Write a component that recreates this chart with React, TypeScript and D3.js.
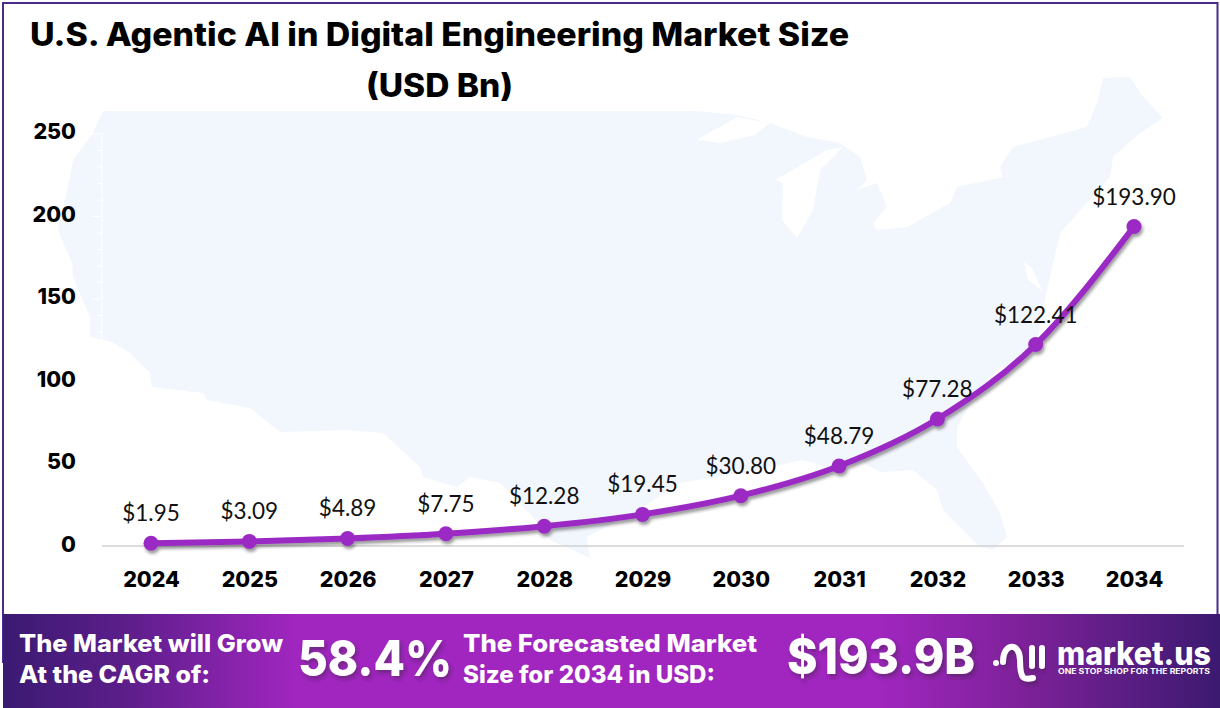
import React, { useEffect, useRef } from 'react';
import * as d3 from 'd3';

const years = ['2024', '2025', '2026', '2027', '2028', '2029', '2030', '2031', '2032', '2033', '2034'];
const marketSize = [1.95, 3.09, 4.89, 7.75, 12.28, 19.45, 30.8, 48.79, 77.28, 122.41, 193.9];
const yTicks = [0, 50, 100, 150, 200, 250];
const minorTicks = d3.range(0, 251, 10);

// background silhouette, traced in page pixels
const mapOutline: [number, number][] = [
  [103, 111], [697, 111], [737, 115], [770, 123], [807, 137], [840, 143], [860, 157], [867, 180], [857, 190],
  [877, 183], [887, 207], [873, 223], [877, 230], [907, 227], [950, 203], [957, 187], [1003, 177], [1000, 167],
  [1013, 147], [1087, 127], [1097, 103], [1103, 78], [1130, 77], [1140, 93], [1163, 118], [1140, 133], [1113, 157],
  [1110, 177], [1085, 205], [1060, 233], [1047, 290], [1037, 343], [1013, 360], [997, 370], [975, 395], [957, 427],
  [957, 447], [983, 483], [1000, 513], [1007, 537], [993, 550], [980, 547], [943, 510], [937, 490], [913, 470],
  [880, 472], [863, 463], [827, 467], [803, 460], [747, 472], [680, 483], [643, 507], [620, 520], [587, 537],
  [590, 558], [550, 540], [533, 517], [500, 483], [470, 477], [457, 487], [423, 477], [420, 467], [383, 433],
  [347, 430], [280, 432], [250, 408], [207, 400], [203, 393], [152, 387], [150, 373], [130, 353], [112, 342],
  [90, 337], [90, 317], [73, 277], [72, 263], [58, 230], [70, 177], [73, 160], [93, 133],
];
const lakes: [number, number][][] = [
  [[697, 140], [737, 117], [770, 123], [755, 135], [720, 143]],
  [[775, 180], [827, 150], [843, 147], [820, 170], [813, 210], [797, 238], [782, 220], [783, 183]],
  [[1067, 224], [1093, 210], [1080, 222]],
  [[1024, 262], [1032, 268], [1043, 292], [1035, 285], [1028, 280]],
];

const TITLE_FONT = 'Inter, "Noto Sans", sans-serif';
const LABEL_FONT = 'Lato, "Noto Sans", sans-serif';
const PURPLE = '#9b2bc4';

const App: React.FC = () => {
  const svgRef = useRef<SVGSVGElement>(null);

  useEffect(() => {
    document.body.style.margin = '0';
    if (!svgRef.current) return;

    const svg = d3.select(svgRef.current);
    svg.selectAll('*').remove();

    const x = d3.scalePoint<string>().domain(years).range([151, 1134]);
    const y = d3.scaleLinear().domain([0, 250]).range([546.5, 134]);

    const defs = svg.append('defs');
    const grad = defs.append('linearGradient').attr('id', 'band');
    [
      [0, '#3a1a72'], [0.1, '#5c1e8a'], [0.24, '#a026bf'], [0.72, '#a026bf'], [0.84, '#7d2199'], [1, '#3b1a70'],
    ].forEach(([o, c]) => grad.append('stop').attr('offset', o as number).attr('stop-color', c as string));

    const addShadow = (id: string, dx: number, dy: number, sd: number, op: number) =>
      defs.append('filter').attr('id', id).attr('x', '-10%').attr('y', '-30%').attr('width', '120%').attr('height', '160%')
        .append('feDropShadow').attr('dx', dx).attr('dy', dy).attr('stdDeviation', sd)
        .attr('flood-color', '#222').attr('flood-opacity', op);
    addShadow('lineShadow', 1.5, 3, 1.5, 0.45);
    addShadow('textShadow', 2, 3, 2, 0.4);

    svg.append('rect').attr('width', 1220).attr('height', 708).attr('fill', '#fff');

    // map background
    const outline = d3.line();
    svg.append('path').attr('d', outline(mapOutline) + 'Z').attr('fill', '#f2f6fd');
    lakes.forEach(l => svg.append('path').attr('d', outline(l) + 'Z').attr('fill', '#fff'));

    // frame
    svg.append('path').attr('d', 'M3 663V3H1217.5V614').attr('fill', 'none').attr('stroke', '#4a2a8a').attr('stroke-width', 2);

    // white axis ticks that show over the map
    svg.append('line').attr('x1', 102).attr('x2', 102).attr('y1', y(250)).attr('y2', y(0)).attr('stroke', '#fff');
    svg.selectAll('.minor').data(minorTicks).enter().append('line')
      .attr('x1', d => (d % 50 === 0 ? 92 : 97)).attr('x2', 102)
      .attr('y1', d => y(d)).attr('y2', d => y(d)).attr('stroke', '#fff');

    // x axis
    const xAxis = svg.append('g').attr('transform', `translate(0,${y(0) - 0.5})`)
      .call(d3.axisBottom(x).tickSize(0).tickPadding(26));
    xAxis.select('.domain').remove();
    xAxis.append('line').attr('x1', 102).attr('x2', 1184).attr('stroke', '#d0d0d0').attr('stroke-width', 1.5);
    xAxis.selectAll('text').attr('font-family', TITLE_FONT).attr('font-weight', 800).attr('font-size', 21.5).attr('fill', '#000');

    // y axis
    const yAxis = svg.append('g').attr('transform', 'translate(76,-2)')
      .call(d3.axisLeft(y).tickValues(yTicks).tickSize(0).tickPadding(0));
    yAxis.select('.domain').remove();
    yAxis.selectAll('text').attr('font-family', TITLE_FONT).attr('font-weight', 800).attr('font-size', 21.5).attr('fill', '#000');

    // series
    const points = years.map((yr, i) => ({ yr, v: marketSize[i] }));
    const line = d3.line<{ yr: string; v: number }>()
      .x(d => x(d.yr) as number).y(d => y(d.v)).curve(d3.curveMonotoneX);
    const series = svg.append('g').attr('filter', 'url(#lineShadow)');
    series.append('path').attr('d', line(points)).attr('fill', 'none').attr('stroke', PURPLE).attr('stroke-width', 6).attr('stroke-linejoin', 'round');
    series.selectAll('circle').data(points).enter().append('circle')
      .attr('cx', d => x(d.yr) as number).attr('cy', d => y(d.v)).attr('r', 7.5).attr('fill', PURPLE);

    svg.selectAll('.value').data(points).enter().append('text')
      .attr('x', d => x(d.yr) as number).attr('y', d => y(d.v) - 22)
      .attr('text-anchor', 'middle').attr('font-family', LABEL_FONT).attr('font-size', 22.5).attr('fill', '#111')
      .text(d => `$${d.v.toFixed(2)}`);

    // title
    const fitted = (g: any, s: string, tx: number, ty: number, w: number, size: number, weight = 700, fill = '#000') =>
      g.append('text').attr('x', tx).attr('y', ty).attr('textLength', w).attr('lengthAdjust', 'spacingAndGlyphs')
        .attr('font-family', TITLE_FONT).attr('font-weight', weight).attr('font-size', size).attr('fill', fill).text(s);
    fitted(svg, 'U.S. Agentic AI in Digital Engineering Market Size', 30, 46, 819, 32, 800);
    fitted(svg, '(USD Bn)', 366, 97, 147, 32, 800);

    // bottom band
    svg.append('rect').attr('x', 3).attr('y', 614).attr('width', 1217).attr('height', 94).attr('fill', 'url(#band)');
    fitted(svg, 'The Market will Grow', 19, 652, 264, 24, 800, '#fff');
    fitted(svg, 'At the CAGR of:', 19, 683, 191, 24, 800, '#fff');
    fitted(svg, 'The Forecasted Market', 463, 652, 294, 24, 800, '#fff');
    fitted(svg, 'Size for 2034 in USD:', 463, 683, 252, 24, 800, '#fff');
    fitted(svg, '58.4%', 298, 676, 154, 50, 800, '#fff').attr('filter', 'url(#textShadow)');
    fitted(svg, '$193.9B', 787, 674, 188, 50, 800, '#fff').attr('filter', 'url(#textShadow)');

    // logo
    const logo = svg.append('g').attr('fill', 'none').attr('stroke', '#fff').attr('stroke-width', 6).attr('stroke-linecap', 'round').attr('filter', 'url(#textShadow)');
    logo.append('path').attr('d', 'M1003 662C1003 642 1020 642 1020 660C1020 680 1024 680 1033 678');
    logo.append('path').attr('d', 'M1032 648V666');
    logo.append('path').attr('d', 'M1042 648V666');
    svg.append('circle').attr('cx', 996).attr('cy', 663).attr('r', 3).attr('fill', '#fff');
    fitted(svg, 'market.us', 1057, 665, 154, 32, 800, '#fff');
    fitted(svg, 'ONE STOP SHOP FOR THE REPORTS', 1058, 674, 152, 7, 700, '#fff');
  }, []);

  return <svg ref={svgRef} width={1220} height={708} style={{ position: 'absolute', left: 0, top: 0, display: 'block' }} />;
};

export default App;
